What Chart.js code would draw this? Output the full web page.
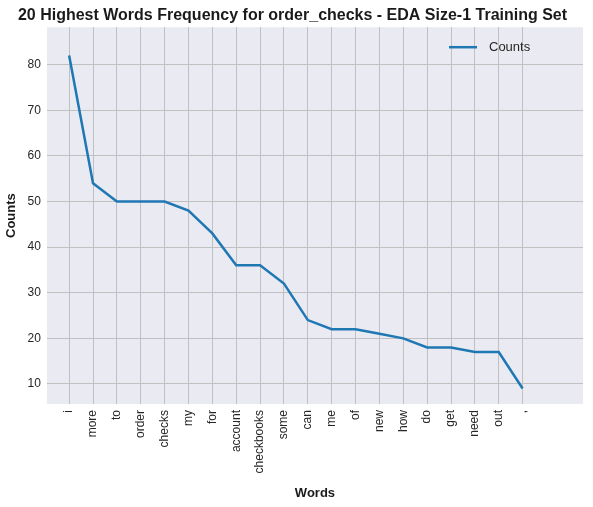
<!DOCTYPE html>
<html><head><meta charset="utf-8">
<script src="https://cdn.jsdelivr.net/npm/chart.js@4/dist/chart.umd.min.js"></script>
<style>body{margin:0;background:#fff}#w{width:593px;height:507px}</style>
</head><body><div id="w"><canvas id="c"></canvas></div>
<script>
const words = ["i","more","to","order","checks","my","for","account","checkbooks","some","can","me","of","new","how","do","get","need","out",","];
const counts = [82,54,50,50,50,48,43,36,36,32,24,22,22,21,20,18,18,17,17,9];
const yTicks = [10,20,30,40,50,60,70,80];

const bgAndLegend = {
  id: "bgAndLegend",
  beforeDraw(chart) {
    const { ctx, chartArea: a } = chart;
    ctx.save();
    ctx.fillStyle = "#eaeaf2";
    ctx.fillRect(a.left, a.top, a.right - a.left, a.bottom - a.top);
    ctx.restore();
  },
  afterDraw(chart) {
    const { ctx, chartArea: a } = chart;
    ctx.save();
    ctx.strokeStyle = "#1f77b4";
    ctx.lineWidth = 2.5;
    ctx.beginPath();
    ctx.moveTo(a.right - 134, a.top + 20);
    ctx.lineTo(a.right - 106, a.top + 20);
    ctx.stroke();
    ctx.fillStyle = "#262626";
    ctx.font = "13px Arial, 'Liberation Sans'";
    ctx.textBaseline = "middle";
    ctx.fillText("Counts", a.right - 94, a.top + 20);
    ctx.restore();
  }
};

new Chart(document.getElementById("c"), {
  type: "line",
  data: {
    datasets: [{
      data: counts.map((v, i) => ({ x: i, y: v })),
      borderColor: "#1f77b4",
      borderWidth: 2.5,
      pointRadius: 0,
      tension: 0
    }]
  },
  options: {
    responsive: true,
    maintainAspectRatio: false,
    animation: false,
    layout: { padding: { right: 10, top: 0, left: 2 } },
    plugins: {
      legend: { display: false },
      tooltip: { enabled: false },
      title: {
        display: true,
        text: "20 Highest Words Frequency for order_checks - EDA Size-1 Training Set",
        color: "#1a1a1a",
        font: { family: "Arial, 'Liberation Sans'", size: 16, weight: "bold" },
        padding: { top: 6, bottom: 2 }
      }
    },
    scales: {
      x: {
        type: "linear",
        min: -0.93,
        max: 21.53,
        afterBuildTicks: axis => { axis.ticks = words.map((w, i) => ({ value: i })); },
        ticks: {
          autoSkip: false,
          maxRotation: 90,
          minRotation: 90,
          color: "#262626",
          padding: 6,
          font: { family: "Arial, 'Liberation Sans'", size: 12 },
          callback: v => words[v]
        },
        grid: { color: "#c0c0c0", drawTicks: false },
        border: { display: false },
        title: { display: true, text: "Words", color: "#1a1a1a", padding: { top: 6, bottom: 6 },
          font: { family: "Arial, 'Liberation Sans'", size: 13, weight: "bold" } }
      },
      y: {
        min: 5.6,
        max: 88.2,
        afterBuildTicks: axis => { axis.ticks = yTicks.map(v => ({ value: v })); },
        ticks: { color: "#262626", padding: 6, font: { family: "Arial, 'Liberation Sans'", size: 12 } },
        grid: { color: "#c0c0c0", drawTicks: false },
        border: { display: false },
        title: { display: true, text: "Counts", color: "#1a1a1a", padding: 2,
          font: { family: "Arial, 'Liberation Sans'", size: 13, weight: "bold" } }
      }
    }
  },
  plugins: [bgAndLegend]
});
</script></body></html>
